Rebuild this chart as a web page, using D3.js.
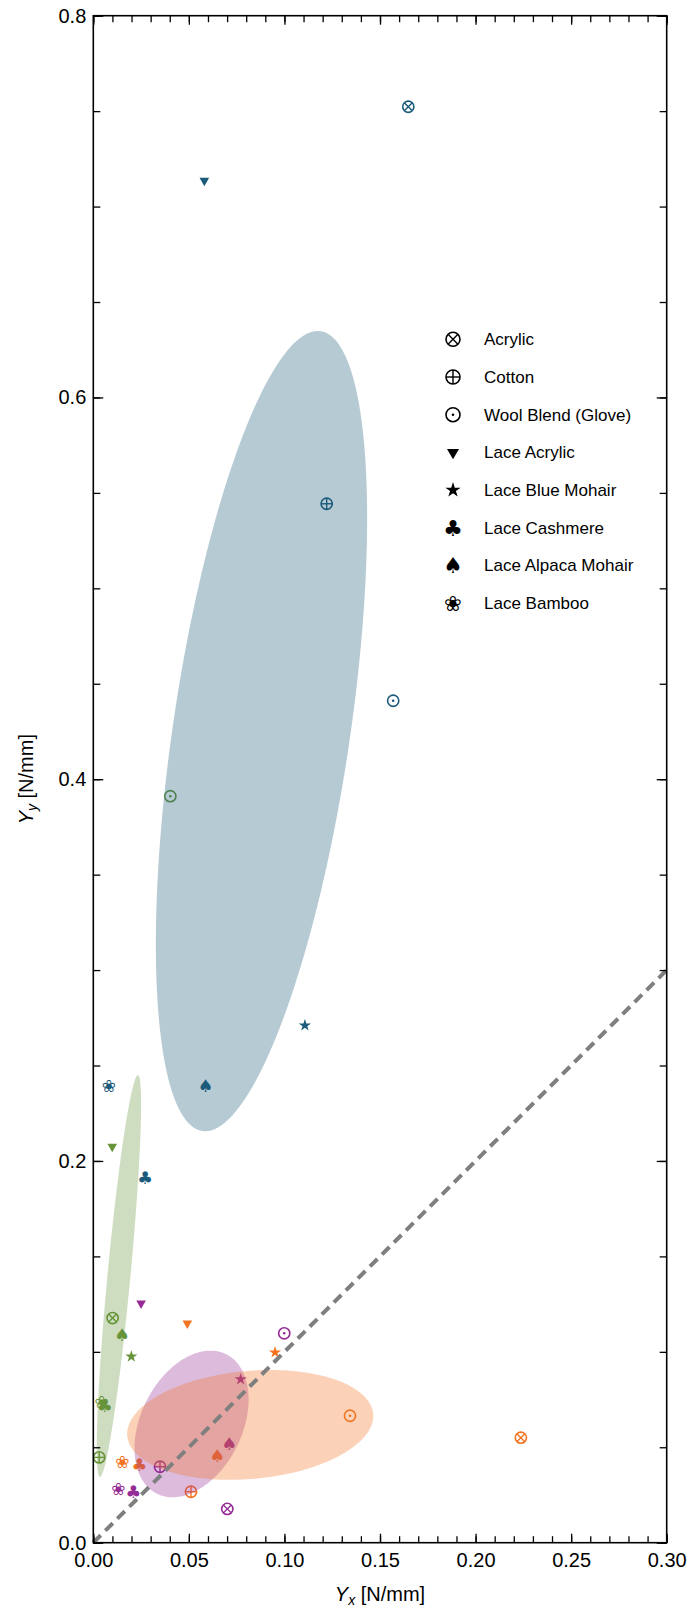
<!DOCTYPE html>
<meta charset="utf-8">
<style>
body { margin: 0; background: #fff; }
text { font-family: "Liberation Sans", Arial, Helvetica, sans-serif; }
.axis path.domain { display: none; }
.axis line { stroke: #000; stroke-width: 1.3px; }
.axis text { font-size: 20px; fill: #000; }
.frame { fill: none; stroke: #000; stroke-width: 1.6px; }
.ellipse { stroke: none; fill-opacity: 0.32; }
.ref-line { fill: none; stroke: #7f7f7f; stroke-width: 4px; stroke-dasharray: 10.5, 6.5; }
.legend text { font-size: 17px; fill: #000; }
</style>

<svg id="chart" width="691" height="1611"></svg>

<script src="https://cdn.jsdelivr.net/npm/d3@7"></script>
<script>
// materials, in the order of the legend, and the marker of each
var materials = ["Acrylic", "Cotton", "Wool Blend (Glove)", "Lace Acrylic",
                 "Lace Blue Mohair", "Lace Cashmere", "Lace Alpaca Mohair", "Lace Bamboo"];
var markerTypes = ["otimes", "oplus", "odot", "triangle", "star", "club", "spade", "bamboo"];

// one pair of arrays per colour group: Yx and Yy [N/mm], in material order
var blueYx   = [0.1648, 0.1221, 0.1569, 0.0581, 0.1107, 0.0271, 0.0588, 0.0082];
var blueYy   = [0.7523, 0.5443, 0.4411, 0.7136, 0.2710, 0.1914, 0.2394, 0.2393];
var greenYx  = [0.0101, 0.0031, 0.0403, 0.0099, 0.0199, 0.0061, 0.0150, 0.0044];
var greenYy  = [0.1177, 0.0447, 0.3911, 0.2075, 0.0975, 0.0718, 0.1088, 0.0739];
var purpleYx = [0.0701, 0.0349, 0.0999, 0.0250, 0.0771, 0.0209, 0.0712, 0.0131];
var purpleYy = [0.0177, 0.0398, 0.1097, 0.1254, 0.0856, 0.0267, 0.0517, 0.0281];
var orangeYx = [0.2237, 0.0511, 0.1343, 0.0492, 0.0951, 0.0241, 0.0649, 0.0152];
var orangeYy = [0.0550, 0.0267, 0.0665, 0.1149, 0.0997, 0.0407, 0.0456, 0.0421];

var groupNames  = ["blue", "green", "purple", "orange"];
var groupColors = ["#1b5a7a", "#67943a", "#962d96", "#f47321"];

// spread ellipse of each group (centre, semi axes in N/mm, angle in degrees)
var ellipseCx    = [0.0880, 0.0134, 0.0514, 0.0821];
var ellipseCy    = [0.4252, 0.1397, 0.0622, 0.0617];
var ellipseA     = [0.2118, 0.1057, 0.0408, 0.0646];
var ellipseB     = [0.0463, 0.0060, 0.0265, 0.0283];
var ellipseAngle = [81.6, 84.6, 63.7, 5.15];

var xMajor = [0, 0.05, 0.10, 0.15, 0.20, 0.25, 0.30];
var yMajor = [0, 0.2, 0.4, 0.6, 0.8];

var svg = d3.select("#chart"),
    margin = {top: 15.7, right: 24.3, bottom: 68.3, left: 93.3},
    width = svg.attr("width") - margin.left - margin.right,
    height = svg.attr("height") - margin.top - margin.bottom,
    g = svg.append("g").attr("transform", "translate(" + margin.left + "," + margin.top + ")");

var x = d3.scaleLinear().domain([0, 0.3]).range([0, width]),
    y = d3.scaleLinear().domain([0, 0.8]).range([height, 0]);

var groups = [
  {name: "blue",   xs: blueYx,   ys: blueYy},
  {name: "green",  xs: greenYx,  ys: greenYy},
  {name: "purple", xs: purpleYx, ys: purpleYy},
  {name: "orange", xs: orangeYx, ys: orangeYy}
];

// k scales the marker (legend markers are drawn a bit larger)
function drawMarker(sel, type, color, k) {
  var r = 5.6 * k;
  if (type == "otimes" || type == "oplus" || type == "odot") {
    sel.append("circle").attr("r", r)
        .attr("fill", "none").attr("stroke", color).attr("stroke-width", 1.6);
    if (type == "odot") {
      sel.append("circle").attr("r", 1.3).attr("fill", color);
    } else {
      var e = type == "otimes" ? r * Math.SQRT1_2 : r;
      var segs = type == "otimes" ? [[-e, -e, e, e], [-e, e, e, -e]] : [[-e, 0, e, 0], [0, -e, 0, e]];
      segs.forEach(function(s) {
        sel.append("line")
            .attr("x1", s[0]).attr("y1", s[1]).attr("x2", s[2]).attr("y2", s[3])
            .attr("stroke", color).attr("stroke-width", 1.4);
      });
    }
  } else if (type == "triangle") {
    sel.append("path")
        .attr("d", d3.symbol().type(d3.symbolTriangle).size(40 * k * k)())
        .attr("transform", "rotate(180)")
        .attr("fill", color);
  } else if (type == "star") {
    sel.append("path")
        .attr("d", d3.symbol().type(d3.symbolStar).size(46 * k * k)())
        .attr("fill", color);
  } else {
    var glyph = {club: "\u2663", spade: "\u2660", bamboo: "\u2740"}[type];
    sel.append("text")
        .attr("text-anchor", "middle")
        .attr("dy", "0.36em")
        .style("font-family", "'DejaVu Sans'")
        .style("font-size", (type == "bamboo" ? 17 : 17.5) * k + "px")
        .attr("fill", color)
        .text(glyph);
  }
}

// data markers (drawn below the translucent ellipses)
groups.forEach(function(grp, gi) {
  var pts = grp.xs.map(function(v, i) { return {x: v, y: grp.ys[i], type: markerTypes[i]}; });
  g.append("g").attr("class", "points " + grp.name)
    .selectAll("g")
    .data(pts)
    .enter().append("g")
      .attr("transform", function(d) { return "translate(" + x(d.x) + "," + y(d.y) + ")"; })
      .each(function(d) { drawMarker(d3.select(this), d.type, groupColors[gi], 1); });
});

// ellipses
var ellipses = groupNames.map(function(n, i) {
  return {name: n, cx: ellipseCx[i], cy: ellipseCy[i], a: ellipseA[i], b: ellipseB[i],
          ang: ellipseAngle[i] * Math.PI / 180, color: groupColors[i]};
});

var outline = d3.line()
    .x(function(p) { return x(p[0]); })
    .y(function(p) { return y(p[1]); })
    .curve(d3.curveLinearClosed);

g.selectAll(".ellipse")
  .data(ellipses)
  .enter().append("path")
    .attr("class", "ellipse")
    .attr("fill", function(d) { return d.color; })
    .attr("d", function(d) {
      var pts = d3.range(0, 2 * Math.PI, Math.PI / 90).map(function(t) {
        var u = d.a * Math.cos(t), v = d.b * Math.sin(t);
        return [d.cx + u * Math.cos(d.ang) - v * Math.sin(d.ang),
                d.cy + u * Math.sin(d.ang) + v * Math.cos(d.ang)];
      });
      return outline(pts);
    });

// Yy = Yx reference
g.append("path")
    .attr("class", "ref-line")
    .attr("d", outline.curve(d3.curveLinear)([[0, 0], [0.3, 0.3]]));

// axes, ticks pointing inwards
var xMinor = d3.range(0, 0.3001, 0.01),
    yMinor = d3.range(0, 0.8001, 0.05);

g.append("g").attr("class", "axis")
    .attr("transform", "translate(0," + height + ")")
    .call(d3.axisBottom(x).tickValues(xMinor).tickSize(-6.5).tickFormat(""));
g.append("g").attr("class", "axis")
    .attr("transform", "translate(0," + height + ")")
    .call(d3.axisBottom(x).tickValues(xMajor).tickSizeInner(-9).tickSizeOuter(0)
      .tickPadding(10).tickFormat(d3.format(".2f")));
g.append("g").attr("class", "axis")
    .call(d3.axisTop(x).tickValues(xMinor).tickSize(-6.5).tickFormat(""));
g.append("g").attr("class", "axis")
    .call(d3.axisTop(x).tickValues(xMajor).tickSize(-9).tickFormat(""));

g.append("g").attr("class", "axis")
    .call(d3.axisLeft(y).tickValues(yMinor).tickSize(-7).tickFormat(""));
g.append("g").attr("class", "axis")
    .call(d3.axisLeft(y).tickValues(yMajor).tickSizeInner(-10).tickSizeOuter(0)
      .tickPadding(7).tickFormat(d3.format(".1f")));
g.append("g").attr("class", "axis")
    .attr("transform", "translate(" + width + ",0)")
    .call(d3.axisRight(y).tickValues(yMinor).tickSize(-7).tickFormat(""));
g.append("g").attr("class", "axis")
    .attr("transform", "translate(" + width + ",0)")
    .call(d3.axisRight(y).tickValues(yMajor).tickSize(-10).tickFormat(""));

g.append("rect")
    .attr("class", "frame")
    .attr("width", width)
    .attr("height", height);

// axis titles
var xt = svg.append("text")
    .attr("x", margin.left + width / 2)
    .attr("y", 1601)
    .attr("text-anchor", "middle")
    .style("font-size", "20px");
xt.append("tspan").style("font-style", "italic").text("Y");
xt.append("tspan").style("font-style", "italic").style("font-size", "14px").attr("dy", 4).text("x");
xt.append("tspan").attr("dy", -4).text(" [N/mm]");

var yt = svg.append("text")
    .attr("transform", "translate(33," + (margin.top + height / 2) + ") rotate(-90)")
    .attr("text-anchor", "middle")
    .style("font-size", "20px");
yt.append("tspan").style("font-style", "italic").text("Y");
yt.append("tspan").style("font-style", "italic").style("font-size", "14px").attr("dy", 4).text("y");
yt.append("tspan").attr("dy", -4).text(" [N/mm]");

// legend
var legend = svg.append("g").attr("class", "legend")
    .attr("transform", "translate(453,339.3)");

var item = legend.selectAll("g")
  .data(materials)
  .enter().append("g")
    .attr("transform", function(d, i) { return "translate(0," + i * 37.7 + ")"; });

item.each(function(d, i) { drawMarker(d3.select(this), markerTypes[i], "#000", 1.25); });

item.append("text")
    .attr("x", 31)
    .attr("dy", "0.35em")
    .text(function(d) { return d; });
</script>
